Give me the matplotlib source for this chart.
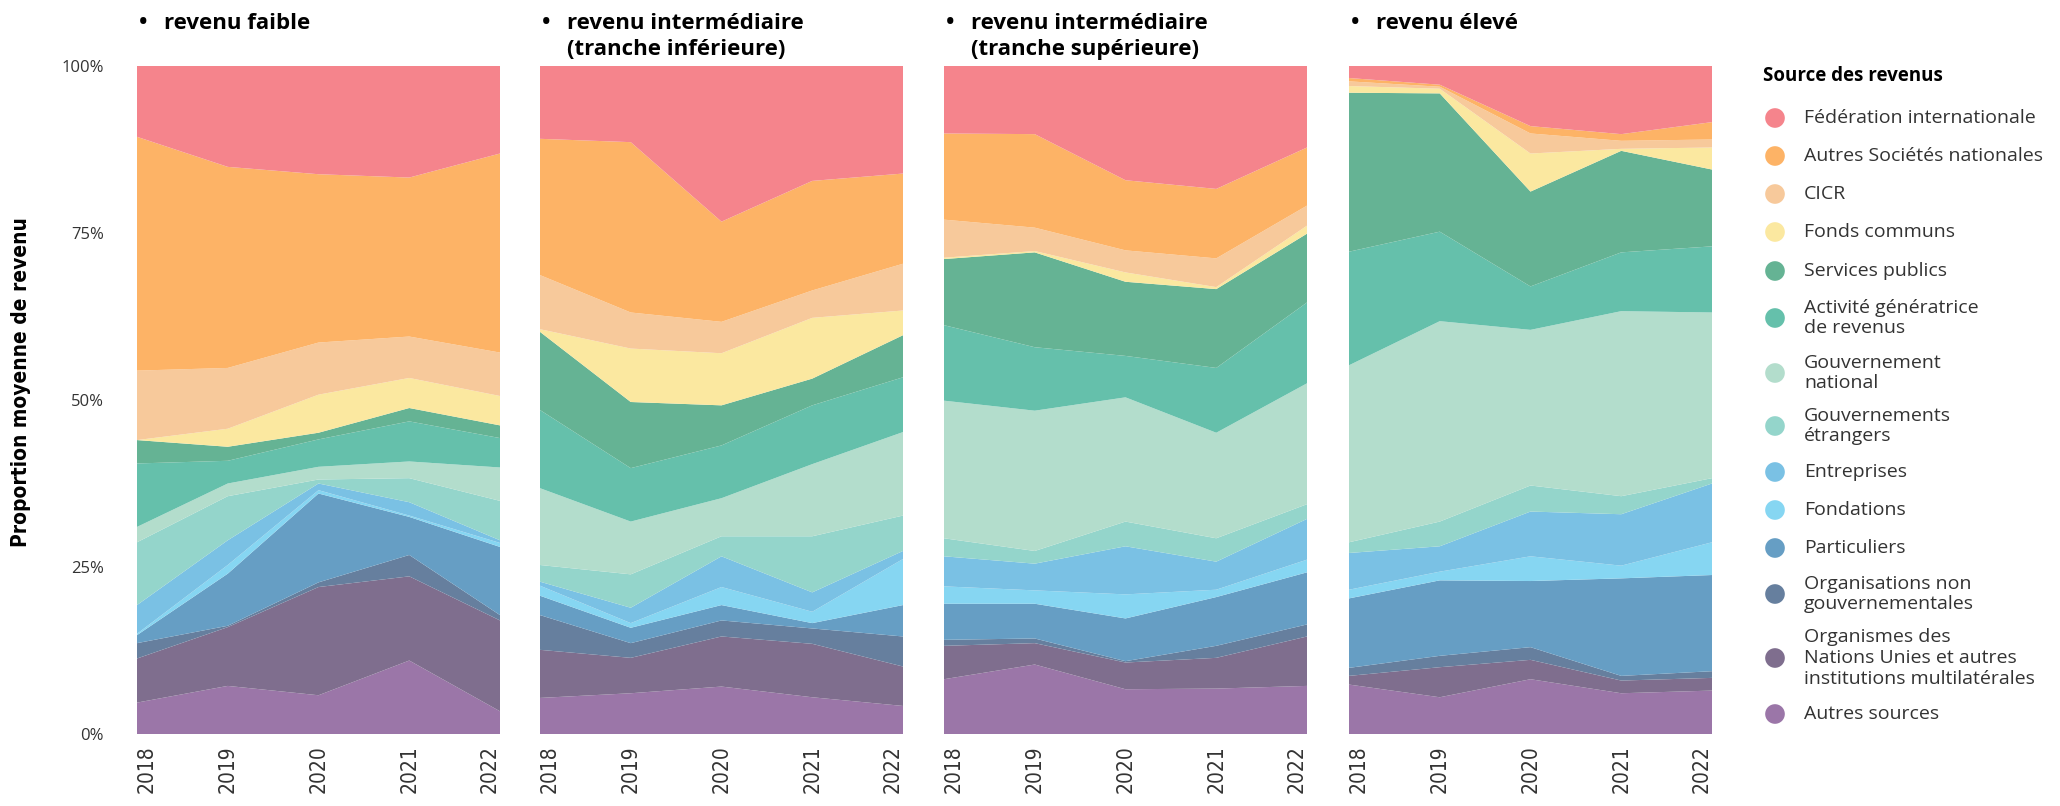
import matplotlib
matplotlib.use("Agg")
import matplotlib.pyplot as plt
from matplotlib import font_manager

years = [2018, 2019, 2020, 2021, 2022]

sources = [
    "Fédération internationale",
    "Autres Sociétés nationales",
    "CICR",
    "Fonds communs",
    "Services publics",
    "Activité génératrice\nde revenus",
    "Gouvernement\nnational",
    "Gouvernements\nétrangers",
    "Entreprises",
    "Fondations",
    "Particuliers",
    "Organisations non\ngouvernementales",
    "Organismes des\nNations Unies et autres\ninstitutions multilatérales",
    "Autres sources",
]

colors = [
    "#F5848C", "#FDB366", "#F7C99B", "#FBE8A0", "#65B394", "#65C0AB",
    "#B3DDCC", "#94D5CB", "#7AC1E4", "#86D6F2", "#669EC4", "#667F9E",
    "#7F6E8E", "#9B76A8",
]

panel_titles = [
    "revenu faible",
    "revenu intermédiaire\n(tranche inférieure)",
    "revenu intermédiaire\n(tranche supérieure)",
    "revenu élevé",
]

# Average share of income (%) by source, one row per entry of `sources`
shares_faible = [
    [10.6, 15.1, 16.2, 16.7, 13.1],
    [35.0, 30.1, 25.2, 23.8, 29.8],
    [10.4, 9.1, 7.8, 6.2, 6.5],
    [0.0, 2.7, 5.7, 4.5, 4.4],
    [3.5, 2.1, 1.0, 2.0, 1.9],
    [9.5, 3.4, 4.1, 6.0, 4.4],
    [2.3, 1.9, 1.9, 2.5, 5.0],
    [9.4, 6.6, 0.6, 3.6, 5.9],
    [4.3, 3.7, 1.0, 2.0, 0.4],
    [0.2, 1.3, 0.5, 0.2, 0.6],
    [1.2, 7.8, 13.3, 5.7, 10.2],
    [2.3, 0.2, 0.7, 3.2, 0.8],
    [6.6, 8.8, 16.2, 12.6, 13.6],
    [4.7, 7.2, 5.8, 11.0, 3.4],
]

shares_inferieure = [
    [10.9, 11.4, 23.3, 17.2, 16.1],
    [20.4, 25.5, 15.0, 16.4, 13.5],
    [8.1, 5.4, 4.7, 4.1, 7.0],
    [0.4, 8.0, 7.8, 9.1, 3.7],
    [11.7, 9.9, 6.0, 4.0, 6.3],
    [11.7, 8.0, 7.9, 8.8, 8.2],
    [11.5, 7.9, 5.7, 10.8, 12.5],
    [2.5, 5.0, 3.0, 8.4, 5.3],
    [0.6, 2.3, 4.6, 2.9, 1.2],
    [1.5, 0.7, 2.7, 1.7, 6.9],
    [2.9, 2.3, 2.3, 0.8, 4.7],
    [5.2, 2.2, 2.4, 2.3, 4.5],
    [7.2, 5.3, 7.5, 8.0, 5.9],
    [5.4, 6.1, 7.1, 5.5, 4.2],
]

shares_superieure = [
    [10.1, 10.2, 17.1, 18.4, 12.2],
    [12.9, 14.0, 10.5, 10.4, 8.7],
    [5.7, 3.5, 3.3, 4.3, 3.0],
    [0.2, 0.2, 1.4, 0.3, 1.2],
    [9.9, 14.2, 11.1, 11.8, 10.3],
    [11.3, 9.5, 6.2, 9.7, 12.1],
    [20.6, 21.0, 18.6, 15.8, 18.1],
    [2.7, 1.9, 3.7, 3.5, 2.2],
    [4.5, 4.0, 7.2, 4.2, 6.1],
    [2.6, 2.0, 3.6, 1.1, 1.9],
    [5.4, 5.2, 6.4, 7.3, 7.8],
    [0.9, 0.7, 0.2, 1.8, 1.8],
    [5.0, 3.2, 4.0, 4.6, 7.4],
    [8.2, 10.4, 6.7, 6.8, 7.2],
]

shares_eleve = [
    [1.8, 2.8, 9.0, 10.2, 8.4],
    [0.5, 0.3, 1.1, 1.0, 2.6],
    [0.7, 0.3, 3.0, 1.2, 1.2],
    [1.0, 0.7, 5.7, 0.3, 3.3],
    [23.8, 20.7, 14.2, 15.2, 11.5],
    [17.0, 13.4, 6.5, 8.8, 9.9],
    [26.5, 30.0, 23.3, 27.7, 24.8],
    [1.6, 3.7, 3.9, 2.7, 0.8],
    [5.5, 3.8, 6.7, 7.7, 8.8],
    [1.3, 1.3, 3.7, 1.9, 4.9],
    [10.4, 11.3, 9.9, 14.6, 14.4],
    [1.2, 1.7, 1.9, 0.7, 1.0],
    [1.3, 4.5, 2.9, 1.9, 1.9],
    [7.4, 5.5, 8.2, 6.1, 6.5],
]

panels = [shares_faible, shares_inferieure, shares_superieure, shares_eleve]
y_ticks = [0, 25, 50, 75, 100]


def has_font(family, stretch="normal"):
    try:
        path = font_manager.findfont(
            font_manager.FontProperties(family=family, stretch=stretch),
            fallback_to_default=False)
    except Exception:
        return False
    name = font_manager.get_font(path).family_name
    return family.split()[0].lower() in name.lower()


# Narrow face for the axis title and the year labels
if has_font("Liberation Sans Narrow"):
    NARROW = dict(family=["Liberation Sans Narrow", "DejaVu Sans"])
    YEAR_SIZE, YLABEL_SIZE = 18, 20
else:
    NARROW = dict(family=["DejaVu Sans"], fontstretch="condensed")
    YEAR_SIZE, YLABEL_SIZE = 15, 15

W, H = 2060, 806
fig = plt.figure(figsize=(W / 100, H / 100), dpi=100)

TITLE_FONT = ["Open Sans", "DejaVu Sans"]
TEXT_COLOR = "#333333"

ax_left = [137, 540, 944, 1349]
ax_w = 363
ax_top, ax_bottom = 66, 734


def px_rect(x0, y0, x1, y1):
    return [x0 / W, 1 - y1 / H, (x1 - x0) / W, (y1 - y0) / H]


for i, (shares, title) in enumerate(zip(panels, panel_titles)):
    x0 = ax_left[i]
    ax = fig.add_axes(px_rect(x0, ax_top, x0 + ax_w, ax_bottom))
    ax.stackplot(years, shares[::-1], colors=colors[::-1], linewidth=0)
    ax.set_xlim(years[0], years[-1])
    ax.set_ylim(0, 100)
    for s in ax.spines.values():
        s.set_visible(False)
    ax.set_xticks(years)
    ax.set_xticklabels([str(y) for y in years], rotation=90,
                       fontsize=YEAR_SIZE, color=TEXT_COLOR, **NARROW)
    labels = ax.get_xticklabels()
    labels[0].set_ha("left")
    labels[-1].set_ha("right")
    ax.tick_params(axis="x", length=0, pad=8)
    ax.set_yticks(y_ticks)
    if i == 0:
        ax.set_yticklabels([f"{v}%" for v in y_ticks], family=TITLE_FONT,
                           fontsize=12, color=TEXT_COLOR)
        ax.tick_params(axis="y", length=0, pad=24)
    else:
        ax.tick_params(axis="y", length=0, labelleft=False)

    ax.annotate("•", xy=(0, 1), xycoords="axes fraction", xytext=(1.5, 38.5),
                textcoords="offset points", ha="left", va="top",
                family=TITLE_FONT, fontweight="bold", fontsize=16, color="black")
    ax.annotate(title, xy=(0, 1), xycoords="axes fraction", xytext=(19.5, 38.5),
                textcoords="offset points", ha="left", va="top",
                family=TITLE_FONT, fontweight="bold", fontsize=16, color="black",
                linespacing=1.33)

fig.text(21 / W, 1 - 382 / H, "Proportion moyenne de revenu",
         rotation=90, ha="center", va="center", fontweight="bold",
         fontsize=YLABEL_SIZE, color="black", **NARROW)

# Legend drawn in a pixel-coordinate overlay
leg = fig.add_axes([0, 0, 1, 1])
leg.set_xlim(0, W)
leg.set_ylim(H, 0)
leg.axis("off")
leg.patch.set_alpha(0)

leg.text(1763, 76, "Source des revenus", ha="left", va="center",
         family=TITLE_FONT, fontweight="bold", fontsize=13.5, color="black")
entry_y = [118, 156, 194, 232, 271, 318, 373, 426, 472, 510, 548, 594, 658, 714]
leg.scatter([1775] * len(sources), entry_y, s=200, c=colors, linewidths=0)
for y, label in zip(entry_y, sources):
    leg.text(1804, y, label, ha="left", va="center", family=TITLE_FONT,
             fontsize=14, color=TEXT_COLOR, linespacing=1.2)

fig.savefig("out.png", dpi=100)
